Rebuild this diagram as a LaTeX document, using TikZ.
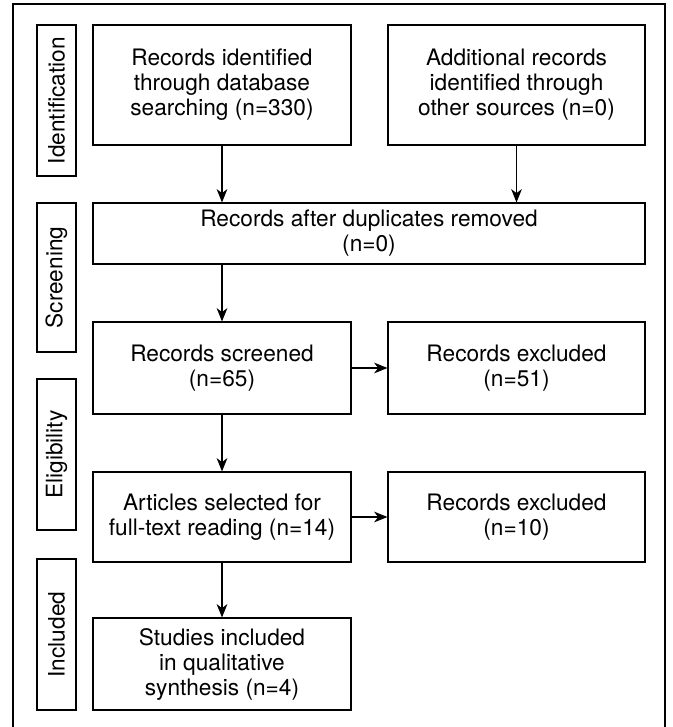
\documentclass[tikz,border=0pt]{standalone}
\usepackage{fontspec}
\setmainfont{TeX Gyre Heros}
\usetikzlibrary{arrows.meta}

\begin{document}
\begin{tikzpicture}[x=0.75pt,y=-0.75pt,line width=0.8pt,
        box/.style={draw,align=center,inner sep=0pt,font=\fontsize{17}{18.75}\selectfont},
        phase/.style={draw,rotate=90,inner sep=0pt,minimum height=29.25pt,font=\fontsize{17}{18.75}\selectfont},
        arr/.style={-{Stealth[length=10pt,width=8pt,inset=3pt]}}]
        \useasboundingbox (0,0) rectangle (673,727);
        \draw (13,727) -- (13,4) -- (665,4) -- (665,727);

        \node[phase,minimum width=113.25pt] (pid) at (56.5,100.5) {Identification};
        \node[phase,minimum width=111.75pt] (pscr) at (56.5,277.5) {Screening};
        \node[phase,minimum width=113.25pt] (pel) at (56.5,454.5) {Eligibility};
        \node[phase,minimum width=113.25pt] (pinc) at (56.5,634.5) {Included};

        \node[box,minimum width=193.5pt,minimum height=90pt] (db) at (222,85) {Records identified\\through database\\searching (n=330)};
        \node[box,minimum width=192.75pt,minimum height=90pt] (other) at (516.5,85) {Additional records\\identified through\\other sources (n=0)};
        \node[box,minimum width=414pt,minimum height=45.75pt] (dup) at (369,233.5) {Records after duplicates removed\\(n=0)};
        \node[box,minimum width=193.5pt,minimum height=69pt] (scr) at (222,368) {Records screened\\(n=65)};
        \node[box,minimum width=192.75pt,minimum height=69pt] (exa) at (516.5,368) {Records excluded\\(n=51)};
        \node[box,minimum width=193.5pt,minimum height=67.5pt] (full) at (222,517) {Articles selected for\\full-text reading (n=14)};
        \node[box,minimum width=192.75pt,minimum height=67.5pt] (exb) at (516.5,517) {Records excluded\\(n=10)};
        \node[box,minimum width=193.5pt,minimum height=69pt] (incl) at (222,664) {Studies included\\in qualitative\\synthesis (n=4)};

        \draw[arr] (db) -- (db |- dup.north);
        \draw[arr] (other) -- (other |- dup.north);
        \draw[arr] (dup.south -| scr) -- (scr);
        \draw[arr] (scr) -- (exa);
        \draw[arr] (scr) -- (full);
        \draw[arr] (full) -- (exb);
        \draw[arr] (full) -- (incl);
    \end{tikzpicture}
\end{document}
